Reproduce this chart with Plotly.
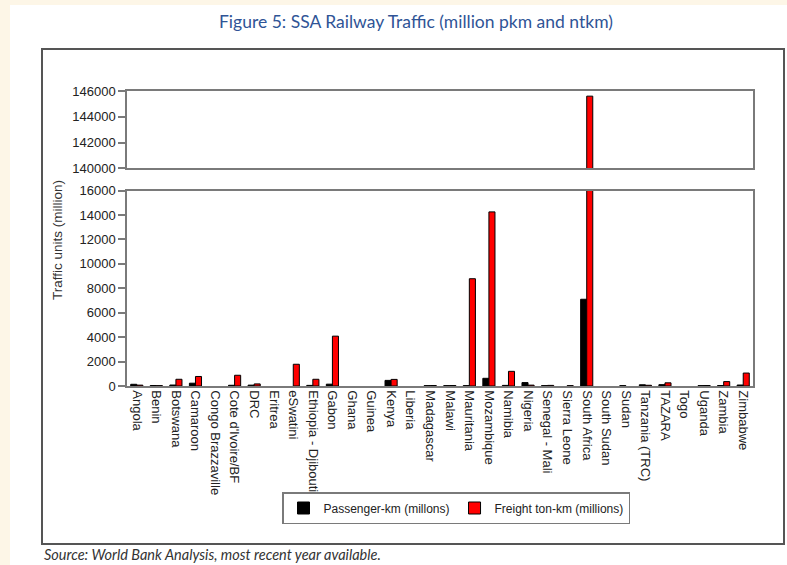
import plotly.graph_objects as go

countries = ["Angola", "Benin", "Botswana", "Camaroon", "Congo Brazzaville",
             "Cote d'Ivoire/BF", "DRC", "Eritrea", "eSwatini", "Ethiopia - Djibouti",
             "Gabon", "Ghana", "Guinea", "Kenya", "Liberia", "Madagascar", "Malawi",
             "Mauritania", "Mozambique", "Namibia", "Nigeria", "Senegal - Mali",
             "Sierra Leone", "South Africa", "South Sudan", "Sudan", "Tanzania (TRC)",
             "TAZARA", "Togo", "Uganda", "Zambia", "Zimbabwe"]

# None = no data reported
passenger_km = [140, 40, 80, 230, None, 60, 70, None, None, 50,
                150, None, None, 460, None, 30, 30, 30, 630, 50,
                280, 30, None, 7100, None, 30, 100, 110, None, 30,
                40, 80]

freight_tkm = [70, 30, 550, 780, None, 880, 170, None, 1780, 550,
               4080, None, None, 540, None, 40, 40, 8780, 14250, 1200,
               70, 50, 30, 145600, None, None, 60, 260, None, 40,
               360, 1060]

bottom_ticks = [0, 2000, 4000, 6000, 8000, 10000, 12000, 14000, 16000]
top_ticks = [140000, 142000, 144000, 146000]

title_text = "Figure 5: SSA Railway Traffic (million pkm and ntkm)"
source_text = "Source: World Bank Analysis, most recent year available."
y_title = "Traffic units (million)"
names = ["Passenger-km (millons)", "Freight ton-km (millions)"]

# plot area in pixels: x 127..753, y 91..386
W, H = 787, 565
L, R, T, B = 127, 753, 91, 386


def px(x):
    return (x - L) / (R - L)


def py(y):
    return (B - y) / (B - T)


fig = go.Figure()
for axes, show in (("y", True), ("y2", False)):
    xa = "x" if axes == "y" else "x2"
    fig.add_trace(go.Bar(x=countries, y=passenger_km, name=names[0],
                         marker=dict(color="black", line=dict(color="black", width=1)),
                         xaxis=xa, yaxis=axes, showlegend=show))
    fig.add_trace(go.Bar(x=countries, y=freight_tkm, name=names[1],
                         marker=dict(color="#ff0000", line=dict(color="black", width=1)),
                         xaxis=xa, yaxis=axes, showlegend=show))

tickfont = dict(family="Liberation Sans, Arial", size=13, color="#222")
axis_line = dict(showline=True, linecolor="#7a7a7a", linewidth=1.5, mirror=True)

bot_top = (B - 190.5) / (B - T)
top_bot = (B - 168.3) / (B - T)

fig.update_layout(
    width=W, height=H,
    margin=dict(l=L, r=W - R, t=T, b=H - B),
    paper_bgcolor="#fdf6e7",
    plot_bgcolor="white",
    barmode="group", bargap=0.38, bargroupgap=0,
    showlegend=True,
    legend=dict(orientation="h", x=px(282), y=py(492), xanchor="left", yanchor="top",
                bordercolor="#7a7a7a", borderwidth=1.5, bgcolor="white",
                font=dict(family="Liberation Sans, Arial", size=12, color="#222"),
                itemwidth=30, tracegroupgap=0),
    xaxis=dict(anchor="y", domain=[0, 1], tickangle=90, tickfont=tickfont,
               ticks="", showgrid=False, **axis_line),
    xaxis2=dict(anchor="y2", domain=[0, 1], matches="x", showticklabels=False,
                ticks="", showgrid=False, **axis_line),
    yaxis=dict(domain=[0, bot_top], range=[0, 16000], tickvals=bottom_ticks,
               ticktext=[str(v) for v in bottom_ticks], ticks="outside", ticklen=7,
               tickcolor="#7a7a7a", tickwidth=1.5, tickfont=tickfont, showgrid=False,
               zeroline=False, **axis_line),
    yaxis2=dict(domain=[top_bot, 1], range=[140000, 146000], tickvals=top_ticks,
                ticktext=[str(v) for v in top_ticks], ticks="outside", ticklen=7,
                tickcolor="#7a7a7a", tickwidth=1.5, tickfont=tickfont, showgrid=False,
                zeroline=False, **axis_line),
    shapes=[
        dict(type="rect", xref="paper", yref="paper", x0=px(10), x1=px(800),
             y0=py(580), y1=py(5), fillcolor="white", line=dict(width=0), layer="below"),
        dict(type="rect", xref="paper", yref="paper", x0=px(42), x1=px(784),
             y0=py(544), y1=py(49), fillcolor="rgba(0,0,0,0)",
             line=dict(color="#555", width=2), layer="below"),
    ],
    annotations=[
        dict(text=title_text, xref="paper", yref="paper", x=px(416), y=py(22),
             xanchor="center", yanchor="middle", showarrow=False,
             font=dict(family="Lato", size=17.5, color="#2f5496")),
        dict(text=source_text, xref="paper", yref="paper", x=px(42), y=py(554),
             xanchor="left", yanchor="middle", showarrow=False,
             font=dict(family="Lato", size=14.5, color="#333", style="italic")),
        dict(text=y_title, xref="paper", yref="paper", x=px(57), y=py(240),
             xanchor="center", yanchor="middle", showarrow=False, textangle=-90,
             font=dict(family="Liberation Sans, Arial", size=13.5, color="#333")),
    ],
)

fig.write_html("out.html")
